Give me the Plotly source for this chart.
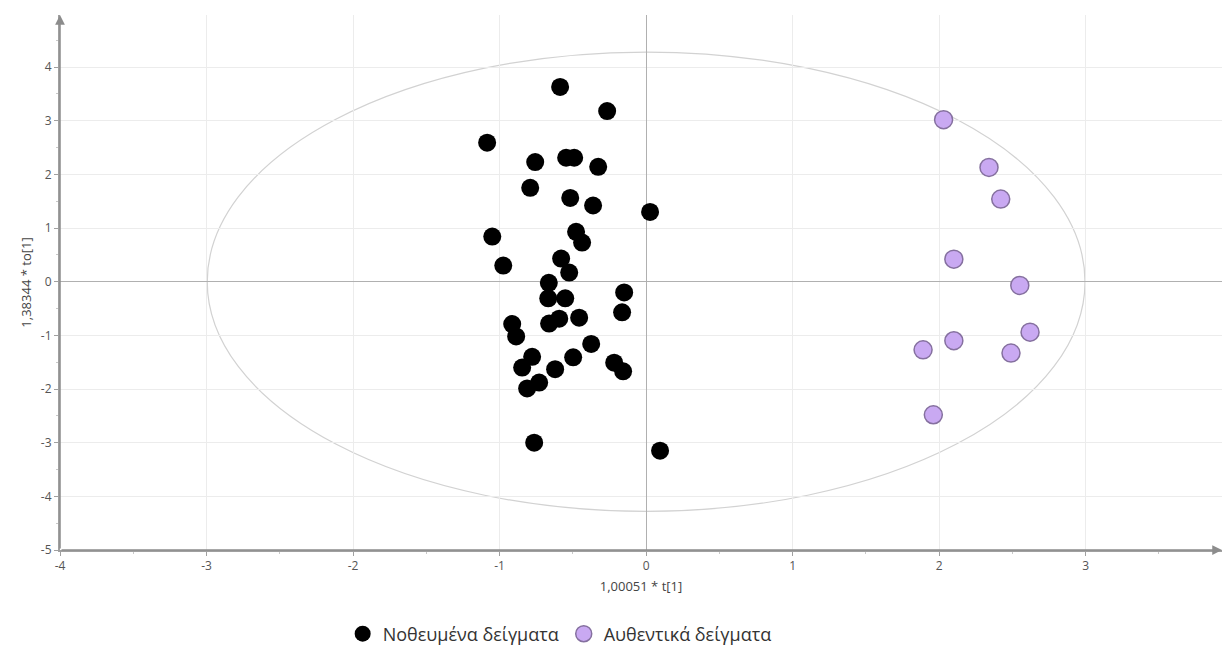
import plotly.graph_objects as go

# Score plot: predictive component t[1] vs orthogonal component to[1]
adulterated_t = [-0.587, -0.266, -1.085, -0.757, -0.546, -0.491, -0.327, -0.791,
                 -0.518, -0.362, 0.027, -1.050, -0.478, -0.437, -0.975, -0.580,
                 -0.525, -0.664, -0.668, -0.552, -0.150, -0.164, -0.457, -0.662,
                 -0.593, -0.914, -0.887, -0.375, -0.498, -0.621, -0.846, -0.778,
                 -0.812, -0.730, -0.218, -0.157, -0.764, 0.095]
adulterated_to = [3.63, 3.18, 2.59, 2.23, 2.31, 2.31, 2.14, 1.75,
                  1.56, 1.42, 1.30, 0.84, 0.93, 0.73, 0.30, 0.43,
                  0.17, -0.02, -0.31, -0.31, -0.20, -0.57, -0.67, -0.78,
                  -0.69, -0.79, -1.02, -1.16, -1.41, -1.63, -1.60, -1.40,
                  -1.99, -1.88, -1.51, -1.67, -3.00, -3.15]

authentic_t = [2.03, 2.34, 2.42, 2.10, 2.55, 2.62, 2.10, 1.89, 2.49, 1.96]
authentic_to = [3.02, 2.13, 1.54, 0.42, -0.07, -0.94, -1.10, -1.27, -1.33, -2.48]

series_names = ["Νοθευμένα δείγματα", "Αυθεντικά δείγματα"]
x_title = "1,00051 * t[1]"
y_title = "1,38344 * to[1]"

x_ticks = [-4, -3, -2, -1, 0, 1, 2, 3]
y_ticks = [-5, -4, -3, -2, -1, 0, 1, 2, 3, 4]

# Hotelling's T2 (95%) ellipse semi-axes
ellipse_a = 2.995
ellipse_b = 4.28

x_range = [-4, 3.93]
y_range = [-5, 4.97]

FONT = "Open Sans, Segoe UI, DejaVu Sans, sans-serif"
AXIS_GREY = "#a0a0a0"

fig = go.Figure()

fig.add_trace(go.Scatter(
    x=adulterated_t, y=adulterated_to, mode="markers", name=series_names[0],
    marker=dict(size=18, color="#000000", line=dict(width=0)),
))
fig.add_trace(go.Scatter(
    x=authentic_t, y=authentic_to, mode="markers", name=series_names[1],
    marker=dict(size=18, color="#C9A9F2", line=dict(width=1.5, color="#85709F")),
))

# Confidence ellipse centred on the origin
fig.add_shape(type="circle", xref="x", yref="y",
              x0=-ellipse_a, x1=ellipse_a, y0=-ellipse_b, y1=ellipse_b,
              line=dict(color="#d2d2d2", width=1.2), layer="below")

# Arrow heads on the axis lines
fig.add_annotation(x=x_range[0], y=y_range[1], ax=x_range[0], ay=y_range[0],
                   xref="x", yref="y", axref="x", ayref="y", text="",
                   showarrow=True, arrowhead=2, arrowsize=1.3, arrowwidth=1.5,
                   arrowcolor="#8c8c8c")
fig.add_annotation(x=x_range[1], y=y_range[0], ax=x_range[0], ay=y_range[0],
                   xref="x", yref="y", axref="x", ayref="y", text="",
                   showarrow=True, arrowhead=2, arrowsize=1.3, arrowwidth=1.5,
                   arrowcolor="#8c8c8c")

axis_common = dict(
    showgrid=True, gridcolor="#ececec", gridwidth=1,
    zeroline=True, zerolinecolor="#b0b0b0", zerolinewidth=1.2,
    showline=True, linecolor=AXIS_GREY, linewidth=2,
    ticks="outside", ticklen=4, tickcolor=AXIS_GREY, tickwidth=1,
    minor=dict(dtick=0.5, ticks="outside", ticklen=2, tickcolor="#c8c8c8", showgrid=False),
    tickfont=dict(family=FONT, size=12, color="#555555"),
    title_font=dict(family=FONT, size=13, color="#444444"),
)

fig.update_xaxes(range=x_range, tickmode="array", tickvals=x_ticks,
                 ticktext=[str(v) for v in x_ticks], title_text=x_title,
                 title_standoff=8, **axis_common)
fig.update_yaxes(range=y_range, tickmode="array", tickvals=y_ticks,
                 ticktext=[str(v) for v in y_ticks], title_text=y_title,
                 title_standoff=6, **axis_common)

fig.update_layout(
    width=1226, height=649,
    margin=dict(l=60, r=4, t=15, b=99, autoexpand=False),
    plot_bgcolor="white", paper_bgcolor="white",
    font=dict(family=FONT, color="#333333"),
    showlegend=True,
    legend=dict(orientation="h", x=0.43, xanchor="center", y=-0.157, yanchor="middle",
                font=dict(family=FONT, size=18, color="#333333"),
                itemwidth=30, traceorder="normal"),
)

fig.write_html("out.html")
